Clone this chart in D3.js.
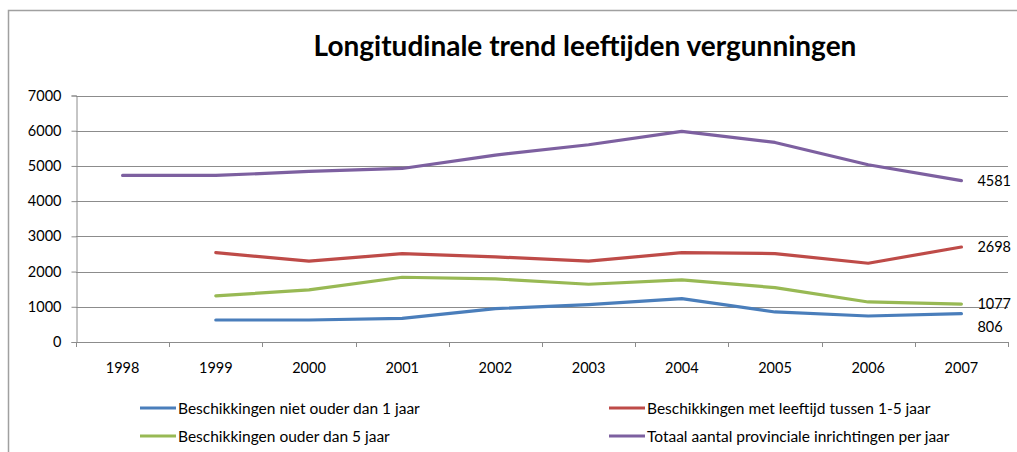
<!DOCTYPE html>
<html>
<head>
<meta charset="utf-8">
<script src="https://cdn.jsdelivr.net/npm/d3@7"></script>
<style>
  body { margin: 0; background: #fff; }
  svg { display: block; }
  text { font-family: Lato, "Open Sans", sans-serif; fill: #000; }
</style>
</head>
<body>
<svg id="chart" width="1017" height="452"></svg>
<script>
const years = ["1998","1999","2000","2001","2002","2003","2004","2005","2006","2007"];
const yTicks = [0,1000,2000,3000,4000,5000,6000,7000];
const seriesNames = [
  "Beschikkingen niet ouder dan 1 jaar",
  "Beschikkingen met leeftijd tussen 1-5 jaar",
  "Beschikkingen ouder dan 5 jaar",
  "Totaal aantal provinciale inrichtingen per jaar"
];
const blueValues   = [null, 625, 625, 673, 948, 1062, 1232, 853, 739, 806];
const redValues    = [null, 2540, 2294, 2511, 2417, 2294, 2540, 2511, 2237, 2698];
const greenValues  = [null, 1308, 1479, 1839, 1791, 1640, 1763, 1545, 1137, 1077];
const purpleValues = [4729, 4729, 4843, 4928, 5308, 5601, 5980, 5667, 5033, 4581];
const endLabels = ["806", "2698", "1077", "4581"];
const colors = ["#4A7EBB", "#BE4B48", "#98B954", "#7D60A0"];

const series = [blueValues, redValues, greenValues, purpleValues];

const svg = d3.select("#chart");
const W = 1017, H = 452;

// outer chart border
svg.append("path")
  .attr("d", `M8.5,${H + 2} L8.5,10.5 L${W + 2},10.5`)
  .attr("fill", "none").attr("stroke", "#a0a0a0").attr("stroke-width", 1.5);

const pLeft = 76, pRight = 1008, pTop = 95.5, pBottom = 342;

const x = d3.scaleBand().domain(years).range([pLeft, pRight]);
const y = d3.scaleLinear().domain([0, 7000]).range([pBottom, pTop]);

// title
svg.append("text")
  .attr("x", 585).attr("y", 56)
  .attr("text-anchor", "middle")
  .style("font-size", "28px").style("font-weight", "bold")
  .text("Longitudinale trend leeftijden vergunningen");

// gridlines
svg.append("g").selectAll("line").data(yTicks.filter(d => d > 0)).join("line")
  .attr("x1", pLeft).attr("x2", pRight)
  .attr("y1", d => Math.round(y(d)) + 0.5).attr("y2", d => Math.round(y(d)) + 0.5)
  .attr("stroke", "#8c8c8c").attr("stroke-width", 1);

// y axis
const yAxis = svg.append("g").attr("transform", `translate(${pLeft + 0.5},0)`)
  .call(d3.axisLeft(y).tickValues(yTicks).tickSize(5).tickPadding(10).tickFormat(d3.format("d")));
yAxis.selectAll("path,line").attr("stroke", "#8c8c8c");
yAxis.selectAll("text").style("font-size", "14.5px").style("font-family", "Lato, sans-serif").attr("fill", "#000");

// x axis
const xAxis = svg.append("g").attr("transform", `translate(0,${Math.round(pBottom) + 0.5})`)
  .call(d3.axisBottom(x).tickSize(0).tickPadding(20));
xAxis.select("path").attr("stroke", "#8c8c8c").attr("d", `M${pLeft},0H${pRight}`);
xAxis.selectAll("text").style("font-size", "14.5px").style("font-family", "Lato, sans-serif").attr("fill", "#000");
// category boundary ticks
const boundaries = years.map(d => x(d)).concat([pRight]);
svg.append("g").selectAll("line").data(boundaries).join("line")
  .attr("x1", d => Math.round(d) + 0.5).attr("x2", d => Math.round(d) + 0.5)
  .attr("y1", pBottom).attr("y2", pBottom + 5)
  .attr("stroke", "#8c8c8c");

// lines
const line = d3.line()
  .defined(d => d.v != null)
  .x(d => x(d.year) + x.bandwidth() / 2)
  .y(d => y(d.v));

series.forEach((vals, i) => {
  const pts = years.map((yr, j) => ({ year: yr, v: vals[j] }));
  svg.append("path").datum(pts)
    .attr("d", line)
    .attr("fill", "none")
    .attr("stroke", colors[i])
    .attr("stroke-width", 3.2)
    .attr("stroke-linejoin", "round")
    .attr("stroke-linecap", "round");
});

// end labels
const lastYear = years[years.length - 1];
const labelOffsets = [18, 5, 5, 5];
series.forEach((vals, i) => {
  const v = vals[vals.length - 1];
  svg.append("text")
    .attr("x", x(lastYear) + x.bandwidth() / 2 + 16)
    .attr("y", y(v) + labelOffsets[i])
    .style("font-size", "14.5px")
    .text(endLabels[i]);
});

// legend
const legendPos = [[140, 408], [609, 408], [140, 436], [609, 436]];
seriesNames.forEach((name, i) => {
  const [lx, ly] = legendPos[i];
  const g = svg.append("g").attr("transform", `translate(${lx},${ly})`);
  g.append("line").attr("x1", 0).attr("x2", 36).attr("y1", 0).attr("y2", 0)
    .attr("stroke", colors[i]).attr("stroke-width", 3);
  g.append("text").attr("x", 38).attr("y", 5.5)
    .style("font-size", "15.5px")
    .text(name);
});
</script>
</body>
</html>
